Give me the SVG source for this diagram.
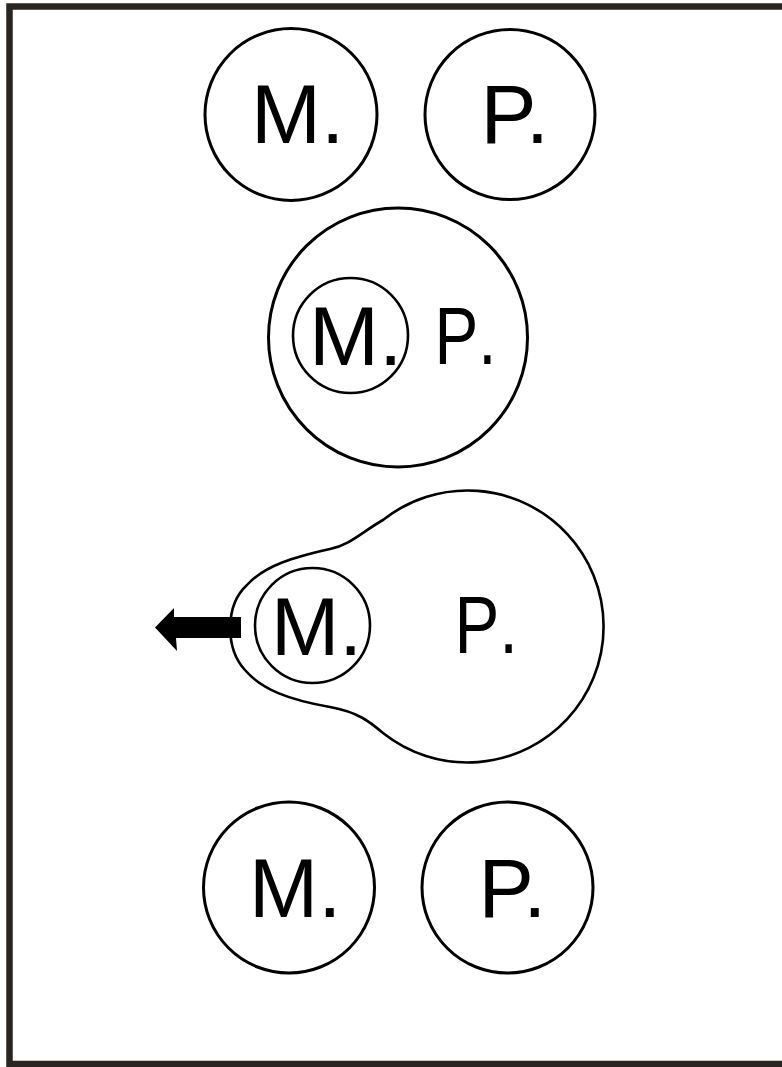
<svg xmlns="http://www.w3.org/2000/svg" width="782" height="1067" viewBox="0 0 782 1067">
  <style>
    .ring { fill: none; stroke: #000; stroke-width: 3; }
    .ring-s { fill: none; stroke: #000; stroke-width: 2.6; }
    .lbl { font-family: "Liberation Sans", Arial, sans-serif; fill: #000; }
    .cond { font-kerning: none; }
  </style>
  <rect x="0" y="0" width="782" height="1067" fill="#fff"/>
  <g id="frame">
    <polyline points="782,6.5 9.5,6.5 9.5,1064 782,1064" fill="none" stroke="#2a2520" stroke-width="6.5"/>
  </g>

  <g id="top-m">
    <circle class="ring" cx="291" cy="114.5" r="86"/>
    <text class="lbl" x="251" y="143" font-size="84">M.</text>
  </g>
  <g id="top-p">
    <circle class="ring" cx="510" cy="114.5" r="85"/>
    <text class="lbl" x="480.5" y="143" font-size="84">P.</text>
  </g>

  <g id="middle-p">
    <circle class="ring" cx="398" cy="337.5" r="129.5"/>
    <text class="lbl cond" transform="translate(434.5,364) scale(0.8,1)" font-size="82">P.</text>
    <g id="middle-m">
      <circle class="ring-s" cx="350.5" cy="335.5" r="57.5"/>
      <text class="lbl" x="309" y="365" font-size="84">M.</text>
    </g>
  </g>

  <g id="blob-p">
    <path class="ring-s" d="M 383 520 A 136 136 0 1 1 383 733 C 370 722, 358 712, 330 707 C 290 700, 262 690, 245 670 C 225 648, 225 605, 247 585 C 265 565, 295 557, 330 549 C 350 545, 362 532, 383 520 Z"/>
    <text class="lbl cond" transform="translate(454.5,653) scale(0.82,1)" font-size="82">P.</text>
    <g id="blob-m">
      <circle class="ring-s" cx="312.5" cy="625.5" r="57.5"/>
      <text class="lbl" x="271" y="655" font-size="82">M.</text>
    </g>
  </g>

  <g id="bottom-m">
    <circle class="ring" cx="289" cy="887.5" r="85.5"/>
    <text class="lbl" x="249" y="917" font-size="83">M.</text>
  </g>
  <g id="bottom-p">
    <circle class="ring" cx="507.5" cy="887.5" r="85.5"/>
    <text class="lbl" x="478.5" y="917" font-size="83">P.</text>
  </g>

  <g id="connectors">
    <polygon points="155,627.5 174,608 174,617 241,617 241,638 176,638 177,651" fill="#000"/>
  </g>
</svg>
